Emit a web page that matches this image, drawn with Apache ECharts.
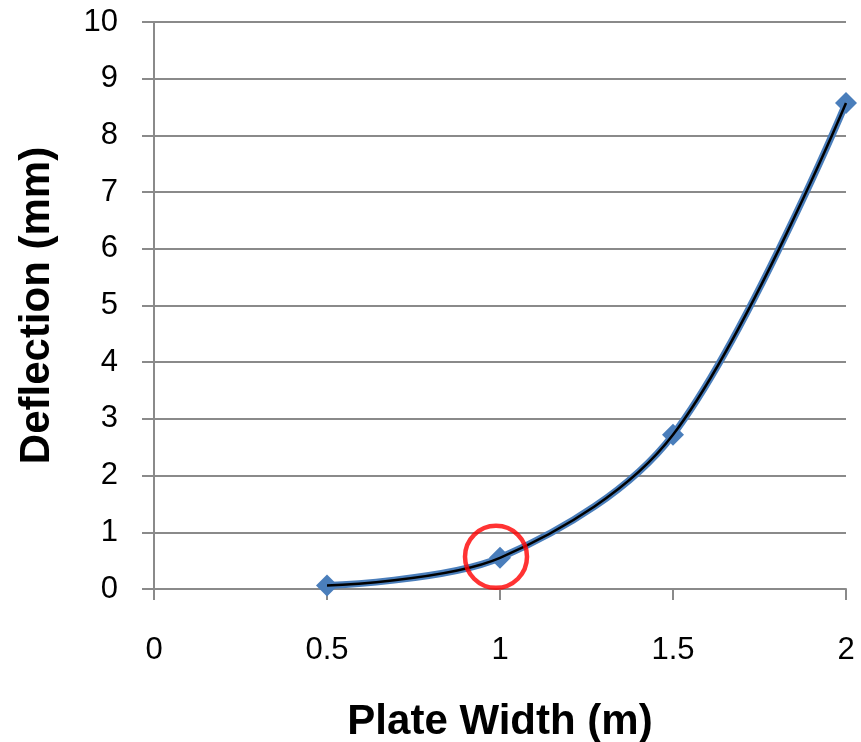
<!DOCTYPE html>
<html>
<head>
<meta charset="utf-8">
<script src="https://cdn.jsdelivr.net/npm/echarts@6/dist/echarts.min.js"></script>
<style>
  html, body { margin: 0; padding: 0; background: #fff; }
  #chart { width: 861px; height: 742px; }
</style>
</head>
<body>
<div id="chart"></div>
<script>
// Plate width (m) against measured deflection (mm)
const plateWidth = [0.5, 1, 1.5, 2];
const deflection = [0.06, 0.55, 2.72, 8.57];
// Point ringed in red
const ringedPoint = [1, 0.55];

const points = plateWidth.map((w, i) => [w, deflection[i]]);

const gridColor = '#8a8a8a';
const font = 'Liberation Sans, Arial, sans-serif';

const chart = echarts.init(document.getElementById('chart'));
chart.setOption({
  animation: false,
  backgroundColor: '#ffffff',
  grid: { left: 154, right: 15, top: 22, bottom: 153, outerBoundsMode: 'none', containLabel: false },
  xAxis: {
    type: 'value',
    min: 0, max: 2, interval: 0.5,
    name: 'Plate Width (m)',
    nameLocation: 'middle',
    nameGap: 112,
    nameTextStyle: { fontFamily: font, fontWeight: 'bold', fontSize: 42, color: '#000' },
    axisLine: { show: true, onZero: false, lineStyle: { color: gridColor, width: 2 } },
    axisTick: { show: true, inside: false, length: 11, lineStyle: { color: gridColor, width: 2 } },
    axisLabel: { margin: 46, fontFamily: font, fontSize: 31, color: '#000' },
    splitLine: { show: false }
  },
  yAxis: {
    type: 'value',
    min: 0, max: 10, interval: 1,
    name: 'Deflection (mm)',
    nameLocation: 'middle',
    nameGap: 96,
    nameTextStyle: { fontFamily: font, fontWeight: 'bold', fontSize: 42, color: '#000' },
    axisLine: { show: true, lineStyle: { color: gridColor, width: 2 } },
    axisTick: { show: true, length: 12, lineStyle: { color: gridColor, width: 2 } },
    axisLabel: { margin: 36, fontFamily: font, fontSize: 31, color: '#000' },
    splitLine: { show: true, lineStyle: { color: gridColor, width: 2 } }
  },
  series: [
    {
      name: 'Deflection',
      type: 'line',
      data: points,
      smooth: 0.33,
      clip: false,
      symbol: 'diamond',
      symbolSize: 22,
      itemStyle: { color: '#4a7ebb' },
      lineStyle: { color: '#4a7ebb', width: 7 },
      z: 2
    },
    {
      name: 'Trend',
      type: 'line',
      data: points,
      smooth: 0.33,
      clip: false,
      symbol: 'none',
      lineStyle: { color: '#000000', width: 2.5 },
      z: 3
    },
    {
      name: 'Ring',
      type: 'scatter',
      data: [ringedPoint],
      clip: false,
      symbol: 'circle',
      symbolSize: 62,
      symbolOffset: [-4, -1],
      itemStyle: { color: 'rgba(0,0,0,0)', borderColor: '#ff0000', borderWidth: 4.5 },
      z: 4
    }
  ]
});
</script>
</body>
</html>
